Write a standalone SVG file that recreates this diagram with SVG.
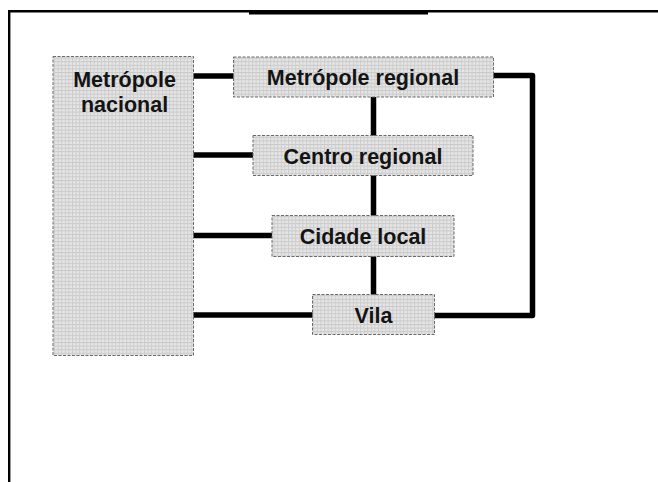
<svg xmlns="http://www.w3.org/2000/svg" width="658" height="482" viewBox="0 0 658 482">
  <defs>
    <pattern id="grid" width="3.6" height="3.6" patternUnits="userSpaceOnUse">
      <rect width="3.6" height="3.6" fill="#e6e6e6"/>
      <rect width="3.6" height="1" fill="#c8c8c8"/>
      <rect width="1" height="3.6" fill="#cdcdcd"/>
    </pattern>
  </defs>
  <style>
    .box { fill: url(#grid); stroke: #6a6a6a; stroke-width: 1; stroke-dasharray: 3 1.5; }
    .lbl { font-family: "Liberation Sans", Arial, sans-serif; font-weight: bold; font-size: 21.5px; fill: #141414; text-anchor: middle; }
    .conn { stroke: #000; stroke-width: 5.5; fill: none; stroke-linejoin: round; }
  </style>
  <rect width="658" height="482" fill="#fff"/>
  <g id="frame">
    <path d="M9.2 482 V11.2 H658" fill="none" stroke="#000" stroke-width="2.4"/>
    <rect x="249" y="10" width="179" height="4.5" fill="#000"/>
  </g>
  <g id="connectors">
    <path class="conn" d="M193 76 H234"/>
    <path class="conn" d="M193 155 H253"/>
    <path class="conn" d="M193 235.5 H272"/>
    <path class="conn" d="M193 315 H313"/>
    <path class="conn" d="M373.5 97 V136"/>
    <path class="conn" d="M373.5 175 V216"/>
    <path class="conn" d="M373.5 256 V295"/>
    <path class="conn" d="M493 75.5 H532.5 V315.5 H434"/>
  </g>
  <g id="metropole-nacional">
    <rect class="box" x="53" y="56.5" width="140.5" height="299"/>
    <text class="lbl" x="124.5" y="86.5">Metrópole</text>
    <text class="lbl" x="124.5" y="111.5">nacional</text>
  </g>
  <g id="metropole-regional">
    <rect class="box" x="233.5" y="57" width="260" height="40"/>
    <text class="lbl" x="363" y="84.5">Metrópole regional</text>
  </g>
  <g id="centro-regional">
    <rect class="box" x="253" y="135.5" width="220" height="40"/>
    <text class="lbl" x="363" y="163.5">Centro regional</text>
  </g>
  <g id="cidade-local">
    <rect class="box" x="272" y="215.5" width="182" height="41"/>
    <text class="lbl" x="363" y="244">Cidade local</text>
  </g>
  <g id="vila">
    <rect class="box" x="312.5" y="294.5" width="122" height="40"/>
    <text class="lbl" x="373.5" y="323">Vila</text>
  </g>
</svg>
